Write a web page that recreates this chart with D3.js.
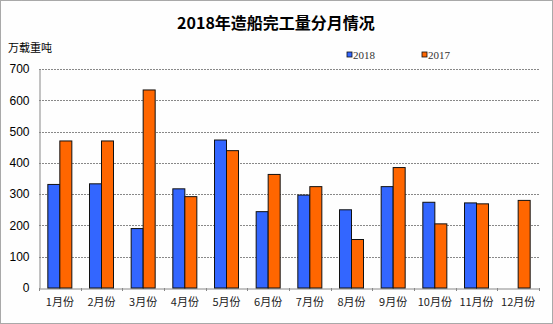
<!DOCTYPE html>
<html><head><meta charset="utf-8">
<script src="https://cdn.jsdelivr.net/npm/d3@7"></script>
<style>body{margin:0;background:#fff}svg{display:block}</style>
</head><body>
<script>
const categories = ["1月份","2月份","3月份","4月份","5月份","6月份","7月份","8月份","9月份","10月份","11月份","12月份"];
const series2018 = [331,333,190,317,473,244,297,250,324,274,272,null];
const series2017 = [470,470,633,292,439,363,324,155,385,205,269,280];
const yTicks = [0,100,200,300,400,500,600,700];
const seriesNames = ["2018","2017"];
const colors = ["#3366FF","#FF6600"];

(function(){
const W=553,H=324;
const svg=d3.select("body").append("svg").attr("width",W).attr("height",H);
svg.append("rect").attr("x",0.5).attr("y",0.5).attr("width",W-1).attr("height",H-1)
  .attr("fill","#fefefe").attr("stroke","#555").attr("stroke-dasharray","1,1");

const pL=39,pR=539,pT=69,pB=288;
const x=d3.scaleBand().domain(categories).range([pL,pR]);
const y=d3.scaleLinear().domain([0,700]).range([pB,pT]);
const bw=12;

// grid
svg.append("g").selectAll("line").data(yTicks.filter(d=>d>0)).join("line")
  .attr("x1",pL).attr("x2",pR).attr("y1",d=>Math.round(y(d))+0.5).attr("y2",d=>Math.round(y(d))+0.5)
  .attr("stroke","#888").attr("stroke-dasharray","2,1");

// y axis
const ya=svg.append("g").attr("transform",`translate(${pL+0.5},0)`)
  .call(d3.axisLeft(y).tickValues(yTicks).tickSize(0).tickPadding(10));
ya.select(".domain").attr("stroke","#888");
ya.selectAll("text").attr("font-family","Arial, 'Liberation Sans', sans-serif").attr("font-size",12).attr("fill","#000");

// x axis
const xa=svg.append("g").attr("transform",`translate(0,${pB+0.5})`)
  .call(d3.axisBottom(x).tickSize(0).tickPadding(10));
xa.select(".domain").attr("stroke","#888");
xa.selectAll("text").attr("font-family","'Noto Sans CJK SC', sans-serif").attr("font-size",11).attr("fill","#222");
svg.append("g").selectAll("line").data(categories).join("line")
  .attr("x1",d=>Math.round(x(d))+0.5).attr("x2",d=>Math.round(x(d))+0.5)
  .attr("y1",pB).attr("y2",pB+3).attr("stroke","#888");
svg.append("line").attr("x1",pR+0.5).attr("x2",pR+0.5).attr("y1",pB).attr("y2",pB+3).attr("stroke","#888");

// bars
const all=[series2018,series2017];
all.forEach((s,si)=>{
  svg.append("g").selectAll("rect").data(categories.map((c,i)=>({c,v:s[i]})).filter(d=>d.v!=null)).join("rect")
    .attr("x",d=>x(d.c)+x.bandwidth()/2-bw+si*bw)
    .attr("y",d=>y(d.v)).attr("width",bw).attr("height",d=>pB-y(d.v))
    .attr("fill",colors[si]).attr("stroke","#111").attr("stroke-width",1);
});

// title
svg.append("text").attr("x",276).attr("y",29).attr("text-anchor","middle")
  .attr("font-family","'Noto Sans CJK SC', sans-serif").attr("font-weight","bold").attr("font-size",16)
  .text("2018年造船完工量分月情况");
svg.append("text").attr("x",8).attr("y",52)
  .attr("font-family","'Noto Sans CJK SC', sans-serif").attr("font-size",11).text("万载重吨");

// legend
const lx=[347,422];
seriesNames.forEach((n,i)=>{
  svg.append("rect").attr("x",lx[i]).attr("y",52).attr("width",5).attr("height",5)
    .attr("fill",colors[i]).attr("stroke","#111").attr("stroke-width",0.8);
  svg.append("text").attr("x",lx[i]+6).attr("y",59).attr("font-family","'Liberation Serif', serif")
    .attr("font-size",11).attr("fill","#333").text(n);
});
})();
</script>
</body></html>
